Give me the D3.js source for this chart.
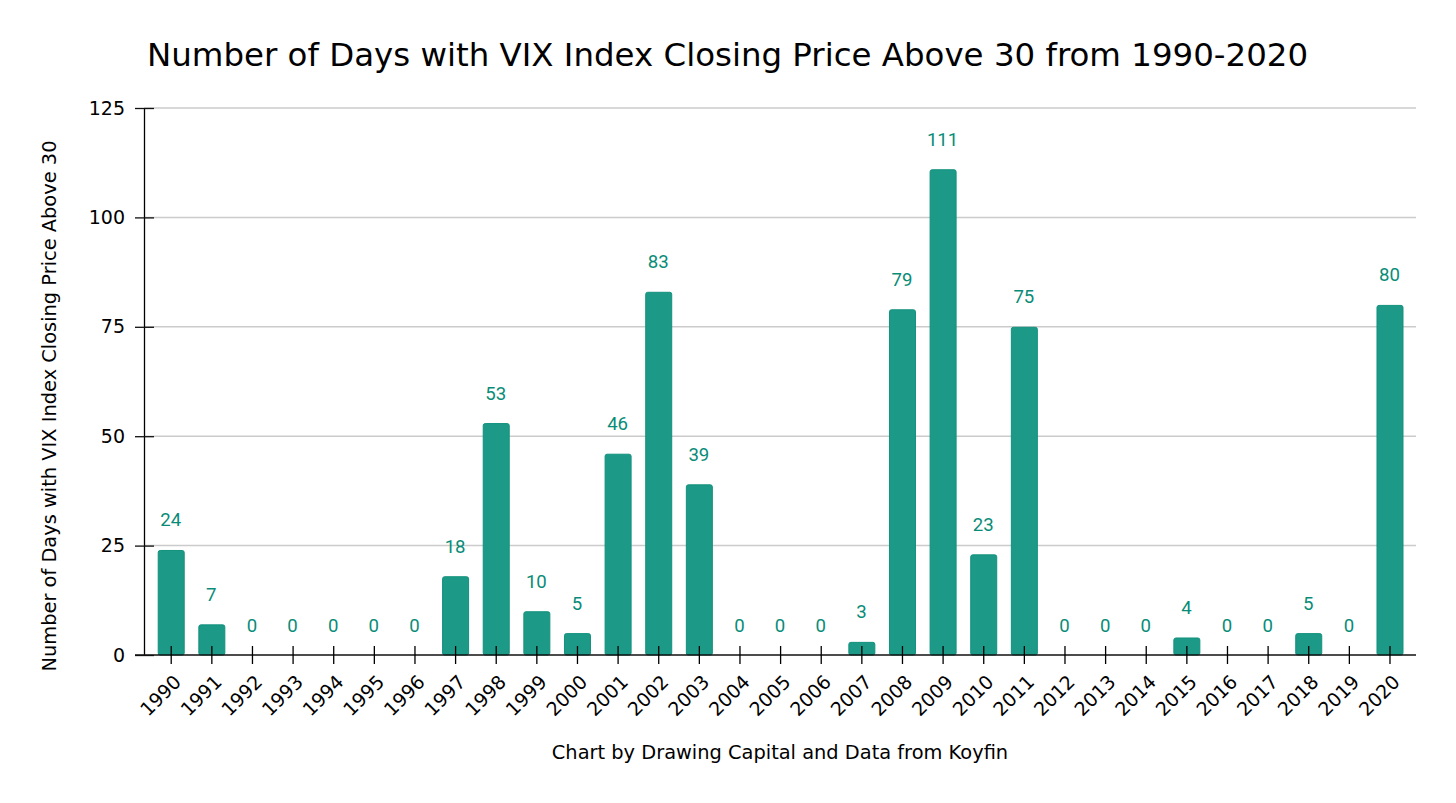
<!DOCTYPE html>
<html>
<head>
<meta charset="utf-8">
<script src="https://d3js.org/d3.v7.min.js"></script>
<style>
  html, body { margin: 0; padding: 0; background: #fff; }
  svg { display: block; }
  text { font-family: "DejaVu Sans", sans-serif; fill: #000; }
  .barLabel { font-family: Roboto, sans-serif; fill: #088c78; }
</style>
</head>
<body>
<svg id="chart" width="1456" height="803"></svg>
<script>
const years = ['1990', '1991', '1992', '1993', '1994', '1995', '1996', '1997', '1998', '1999', '2000',
  '2001', '2002', '2003', '2004', '2005', '2006', '2007', '2008', '2009', '2010',
  '2011', '2012', '2013', '2014', '2015', '2016', '2017', '2018', '2019', '2020'];
const days = [24, 7, 0, 0, 0, 0, 0, 18, 53, 10, 5, 46, 83, 39, 0, 0, 0, 3, 79, 111, 23, 75, 0, 0, 0, 4, 0, 0, 5, 0, 80];
const yTicks = [0, 25, 50, 75, 100, 125];

const titleText = 'Number of Days with VIX Index Closing Price Above 30 from 1990-2020';
const yTitle = 'Number of Days with VIX Index Closing Price Above 30';
const xTitle = 'Chart by Drawing Capital and Data from Koyfin';

const svg = d3.select('#chart');

const x = d3.scaleBand().domain(years).range([150.9, 1410.3]).paddingInner(0.36).paddingOuter(0.18);
const y = d3.scaleLinear().domain([0, 125]).range([655, 108]);

// gridlines
svg.append('g').selectAll('line').data(yTicks.slice(1)).join('line')
  .attr('x1', 144).attr('x2', 1416)
  .attr('y1', (d) => y(d)).attr('y2', (d) => y(d))
  .attr('stroke', '#cbcbcb').attr('stroke-width', 1.5);

// bars, slightly rounded on top
svg.append('g').selectAll('rect').data(days.map((d, i) => [years[i], d]).filter((d) => d[1] > 0)).join('rect')
  .attr('x', (d) => x(d[0]))
  .attr('y', (d) => y(d[1]) + 0.5)
  .attr('width', x.bandwidth())
  .attr('height', (d) => y(0) - y(d[1]) - 0.5)
  .attr('rx', 2)
  .attr('fill', '#1c9a87')
  .attr('stroke', '#12917d')
  .attr('stroke-width', 1);

// value labels
svg.append('g').selectAll('text').data(days).join('text')
  .attr('class', 'barLabel')
  .attr('x', (d, i) => x(years[i]) + x.bandwidth() / 2 - 0.5)
  .attr('y', (d) => y(d) - 23.5)
  .attr('text-anchor', 'middle')
  .attr('font-size', 18.6)
  .text((d) => d);

// y axis
const yAxis = svg.append('g').attr('transform', 'translate(144,0)')
  .call(d3.axisLeft(y).tickValues(yTicks).tickSize(0).tickPadding(19));
yAxis.select('.domain').attr('stroke', '#000').attr('stroke-width', 1.3);
yAxis.selectAll('text').attr('font-size', 19).attr('font-family', '"DejaVu Sans", sans-serif');
yAxis.selectAll('.tick line').attr('x1', -9).attr('x2', 10).attr('stroke', '#111').attr('stroke-width', 1.3);

// x axis
svg.append('line').attr('x1', 135).attr('x2', 1416).attr('y1', 655).attr('y2', 655)
  .attr('stroke', '#111').attr('stroke-width', 1.4);
const xAxis = svg.append('g').attr('transform', 'translate(0,655)')
  .call(d3.axisBottom(x).tickSize(0));
xAxis.select('.domain').remove();
xAxis.selectAll('.tick line').attr('y1', -9).attr('y2', 9).attr('stroke', '#000').attr('stroke-width', 1.3);
xAxis.selectAll('.tick text')
  .attr('font-size', 19)
  .attr('font-family', '"DejaVu Sans", sans-serif')
  .attr('text-anchor', 'end')
  .attr('dy', 0)
  .attr('transform', 'translate(9,26) rotate(-45)');

// titles
svg.append('text').attr('x', 147).attr('y', 66).attr('font-size', 32.45).text(titleText);
svg.append('text').attr('transform', 'translate(56,406) rotate(-90)')
  .attr('text-anchor', 'middle').attr('font-size', 19.4).text(yTitle);
svg.append('text').attr('x', 780).attr('y', 759)
  .attr('text-anchor', 'middle').attr('font-size', 19.4).text(xTitle);
</script>
</body>
</html>
